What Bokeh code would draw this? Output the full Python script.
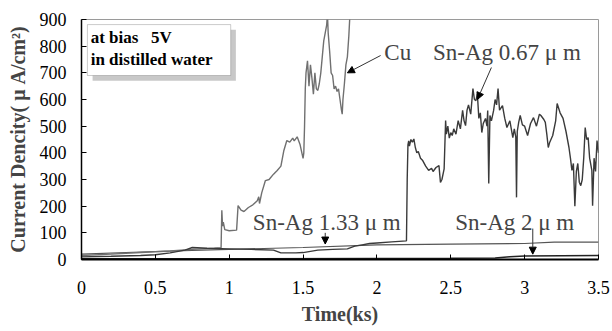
from bokeh.plotting import figure
from bokeh.models import Range1d, Label, Arrow, NormalHead, BoxAnnotation, FixedTicker
from bokeh.embed import file_html
from bokeh.resources import INLINE

# ---- data ----
cu_t = [0.00, 0.20, 0.40, 0.60, 0.75, 0.90, 0.945, 0.950, 0.955, 0.960, 0.97, 1.00, 1.05, 1.06,
        1.08, 1.10, 1.13, 1.16, 1.19, 1.20, 1.205, 1.22, 1.245, 1.27, 1.30, 1.325, 1.35, 1.37,
        1.39, 1.41, 1.43, 1.44, 1.46, 1.48, 1.50, 1.505, 1.51, 1.515, 1.52, 1.53, 1.54, 1.55,
        1.56, 1.57, 1.58, 1.59, 1.60, 1.61, 1.62, 1.63, 1.64, 1.65, 1.66, 1.665, 1.67, 1.68,
        1.69, 1.70, 1.71, 1.72, 1.73, 1.74, 1.75, 1.76, 1.765, 1.77, 1.78, 1.79, 1.80, 1.81, 1.82]
cu_v = [15, 20, 26, 32, 38, 42, 44, 185, 125, 140, 112, 108, 110, 202,
        185, 180, 195, 205, 220, 235, 210, 250, 296, 300, 320, 334, 350, 409,
        446, 440, 455, 445, 460, 430, 379, 400, 500, 640, 700, 745, 650, 730,
        680, 620, 700, 640, 634, 660, 700, 760, 820, 850, 880, 920, 850, 780,
        700, 690, 640, 650, 630, 640, 600, 560, 545, 600, 660, 730, 760, 840, 950]

s067_t = [0.00, 0.20, 0.40, 0.50, 0.60, 0.70, 0.75, 0.85, 1.00, 1.15, 1.30, 1.35, 1.45, 1.50,
          1.60, 1.70, 1.80, 1.85, 1.90, 1.95, 2.00, 2.10, 2.20, 2.205, 2.21, 2.215, 2.22, 2.23,
          2.24, 2.25, 2.26, 2.27, 2.28, 2.295, 2.31, 2.33, 2.35, 2.37, 2.38, 2.40, 2.42, 2.43,
          2.44, 2.455, 2.465, 2.47, 2.48, 2.49, 2.50, 2.51, 2.52, 2.535, 2.55, 2.565, 2.58, 2.59,
          2.60, 2.61, 2.62, 2.635, 2.65, 2.66, 2.67, 2.68, 2.69, 2.70, 2.71, 2.72, 2.735, 2.745,
          2.75, 2.757, 2.765, 2.775, 2.79, 2.80, 2.81, 2.82, 2.83, 2.85, 2.865, 2.88, 2.90, 2.92,
          2.93, 2.94, 2.945, 2.95, 2.96, 2.97, 2.985, 3.00, 3.02, 3.04, 3.06, 3.08, 3.10, 3.11,
          3.13, 3.14, 3.15, 3.16, 3.17, 3.19, 3.21, 3.22, 3.24, 3.26, 3.28, 3.30, 3.31, 3.32,
          3.33, 3.34, 3.35, 3.36, 3.37, 3.38, 3.39, 3.40, 3.41, 3.42, 3.43, 3.44, 3.455, 3.46,
          3.47, 3.48, 3.49, 3.50]
s067_v = [10, 12, 15, 18, 25, 35, 45, 42, 40, 38, 35, 25, 25, 26,
          35, 38, 40, 50, 55, 60, 62, 66, 70, 300, 430, 445, 425, 450,
          440, 452, 420, 400, 405, 380, 371, 350, 334, 342, 330, 345, 352, 289,
          300, 340, 521, 470, 500, 455, 476, 465, 490, 470, 521, 490, 559, 520,
          502, 560, 580, 545, 641, 600, 596, 620, 529, 550, 476, 510, 529, 500,
          559, 285, 540, 520, 559, 600, 580, 641, 560, 577, 530, 495, 520, 457,
          490, 460, 233, 480, 515, 540, 505, 500, 465, 510, 532, 500, 545, 540,
          525, 514, 470, 420, 440, 465, 520, 585, 550, 529, 480, 420, 380, 334,
          360, 200, 330, 360, 290, 277, 300, 380, 495, 450, 457, 380, 334, 202,
          380, 330, 446, 400]

s133_t = [0.00, 0.50, 1.00, 1.50, 2.00, 2.50, 3.00, 3.20, 3.50]
s133_v = [20, 30, 38, 45, 55, 58, 60, 65, 65]

s2_t = [0.00, 1.00, 2.00, 2.50, 2.80, 2.90, 3.00, 3.50]
s2_v = [3, 3, 4, 5, 6, 10, 13, 15]

x_ticks = [0, 0.5, 1, 1.5, 2, 2.5, 3, 3.5]
x_tick_labels = {0: "0", 0.5: "0.5", 1: "1", 1.5: "1.5", 2: "2", 2.5: "2.5", 3: "3", 3.5: "3.5"}
y_ticks = [0, 100, 200, 300, 400, 500, 600, 700, 800, 900]

SERIF = "Liberation Serif"
NB = "\u00a0"

p = figure(width=612, height=331, output_backend="svg", toolbar_location=None,
           x_range=Range1d(0, 3.5), y_range=Range1d(0, 900),
           min_border_left=81, min_border_right=14, min_border_top=19, min_border_bottom=72)
p.background_fill_color = "white"
p.border_fill_color = "white"
p.outline_line_color = "#9a9a9a"
p.outline_line_width = 1
p.xgrid.visible = False
p.ygrid.visible = False

p.xaxis.ticker = FixedTicker(ticks=x_ticks)
p.xaxis.major_label_overrides = {k: v for k, v in x_tick_labels.items()}
p.yaxis.ticker = FixedTicker(ticks=y_ticks)
for ax in (p.xaxis, p.yaxis):
    ax.major_tick_in = 5
    ax.major_tick_out = 0
    ax.minor_tick_line_color = None
    ax.axis_line_color = "black"
    ax.major_tick_line_color = "black"
    ax.major_label_text_font = SERIF
    ax.major_label_text_font_size = "18px"
    ax.major_label_text_color = "black"
    ax.axis_label_text_font = SERIF
    ax.axis_label_text_font_style = "bold"
    ax.axis_label_text_font_size = "20px"
    ax.axis_label_text_color = "#444444"
p.xaxis.axis_line_width = 2
p.yaxis.axis_line_width = 1.5
p.xaxis.major_label_standoff = 21
p.yaxis.major_label_standoff = 15
p.xaxis.axis_label = "Time(ks)"
p.yaxis.axis_label = "Current Dencity(" + NB + "\u03bc" + NB + "A/cm\u00b2)"
p.xaxis.axis_label_standoff = 6
p.yaxis.axis_label_standoff = 8

p.line(s2_t, s2_v, line_color="#222222", line_width=1.5)
p.line(s133_t, s133_v, line_color="#555555", line_width=1.2)
p.line(cu_t, cu_v, line_color="#707070", line_width=1.4)
p.line(s067_t, s067_v, line_color="#3a3a3a", line_width=1.4)

# text box with shadow
p.add_layout(BoxAnnotation(left=0.075, right=1.045, bottom=670, top=862,
                           fill_color="#c8c8c8", fill_alpha=1, line_color=None, level="overlay"))
p.add_layout(BoxAnnotation(left=0.04, right=1.01, bottom=690, top=881,
                           fill_color="white", fill_alpha=1, line_color="#555555",
                           line_width=1, level="overlay"))
for txt, yv in (("at bias" + NB * 3 + "5V", 833), ("in distilled water", 750)):
    p.add_layout(Label(x=0.062, y=yv, text=txt, text_font=SERIF, text_font_style="bold",
                       text_font_size="17px", text_color="black", text_baseline="middle",
                       level="overlay"))

# curve labels
labels = [("Cu", 2.05, 775), ("Sn-Ag 0.67" + NB + "\u03bc" + NB + "m", 2.38, 775),
          ("Sn-Ag 1.33" + NB + "\u03bc" + NB + "m", 1.16, 140), ("Sn-Ag 2" + NB + "\u03bc" + NB + "m", 2.53, 140)]
for txt, xv, yv in labels:
    p.add_layout(Label(x=xv, y=yv, text=txt, text_font=SERIF, text_font_size="23px",
                       text_color="#444444", text_baseline="middle"))

arrows = [(2.025, 765, 1.80, 700), (2.775, 720, 2.68, 600),
          (1.65, 100, 1.65, 58), (3.055, 116, 3.055, 20)]
for x0, y0, x1, y1 in arrows:
    p.add_layout(Arrow(x_start=x0, y_start=y0, x_end=x1, y_end=y1, line_color="#333333",
                       line_width=1,
                       end=NormalHead(size=7, fill_color="black", line_color="black")))

open("out.html", "w").write(file_html(p, INLINE))
